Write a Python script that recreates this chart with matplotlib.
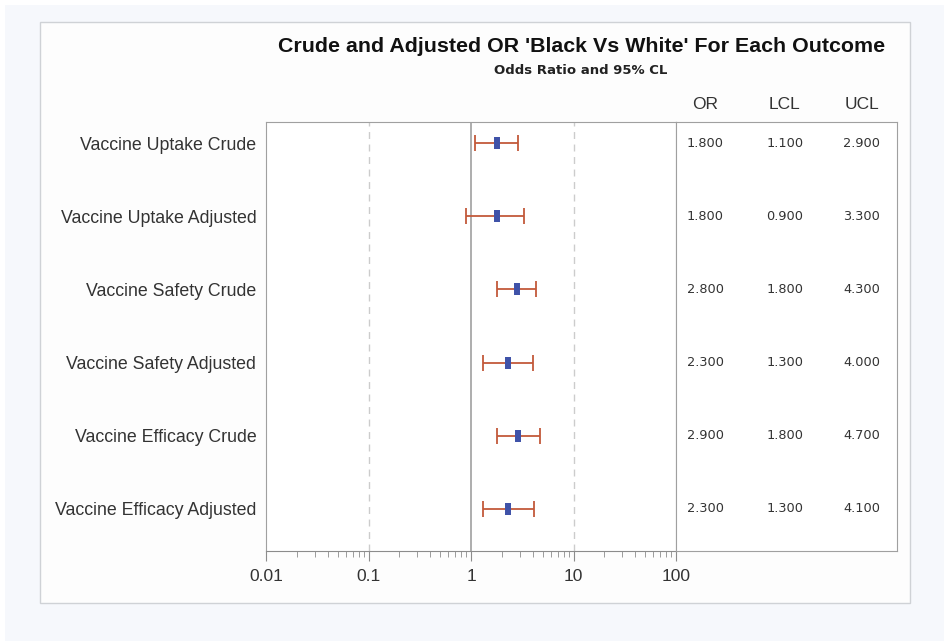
import matplotlib.pyplot as plt
from matplotlib.patches import Rectangle
import matplotlib.ticker as mticker

outcomes = ["Vaccine Uptake Crude", "Vaccine Uptake Adjusted", "Vaccine Safety Crude",
            "Vaccine Safety Adjusted", "Vaccine Efficacy Crude", "Vaccine Efficacy Adjusted"]
odds = [1.8, 1.8, 2.8, 2.3, 2.9, 2.3]
lcl = [1.1, 0.9, 1.8, 1.3, 1.8, 1.3]
ucl = [2.9, 3.3, 4.3, 4.0, 4.7, 4.1]

plt.rcParams['font.family'] = ['Liberation Sans', 'DejaVu Sans']

W, H = 945, 641
fig = plt.figure(figsize=(W / 100, H / 100), dpi=100)
fig.patch.set_facecolor("white")

# backgrounds
fig.add_artist(Rectangle((5 / W, 0), 940 / W, 1 - 5 / H, transform=fig.transFigure,
                         facecolor="#f6f8fc", edgecolor="none", zorder=-3))
fig.add_artist(Rectangle((40 / W, 1 - 603 / H), 870 / W, 581 / H, transform=fig.transFigure,
                         facecolor="#fdfdfd", edgecolor="#cfd2d6", lw=1, zorder=-2))

ax = fig.add_axes([266 / W, 1 - 551 / H, 410 / W, 429 / H])
tab = fig.add_axes([676 / W, 1 - 551 / H, 221 / W, 429 / H])

rows = list(range(len(outcomes)))
err_lo = [o - l for o, l in zip(odds, lcl)]
err_hi = [u - o for o, u in zip(odds, ucl)]

ax.set_xscale("log")
ax.set_xlim(0.01, 100)
ax.set_ylim(5.574, -0.287)
ax.axvline(1, color="#a0a0a0", lw=1.2, zorder=1)
for v in [0.1, 10]:
    ax.axvline(v, color="#cccccc", lw=1, ls=(0, (5, 4)), zorder=1)
ax.errorbar(odds, rows, xerr=[err_lo, err_hi], fmt="none", ecolor="#c3593a",
            elinewidth=1.3, capsize=5.8, capthick=1.3, zorder=2)
ax.scatter(odds, rows, marker="|", s=64, linewidths=4.3, color="#3f52a8", zorder=3)

ax.set_yticks(rows)
ax.set_yticklabels(outcomes, fontsize=12.8, color="#333333")
ax.tick_params(axis="y", length=0, pad=7)
ax.xaxis.set_major_locator(mticker.LogLocator(base=10))
ax.xaxis.set_major_formatter(mticker.FuncFormatter(lambda v, p: f"{v:g}"))
ax.xaxis.set_minor_locator(mticker.LogLocator(base=10, subs=range(2, 10)))
ax.xaxis.set_minor_formatter(mticker.NullFormatter())
ax.tick_params(axis="x", which="major", length=7, color="#8c8c8c", labelsize=12.5,
               labelcolor="#333333", pad=6)
ax.tick_params(axis="x", which="minor", length=4, color="#8c8c8c")
for s in ["top", "right", "left"]:
    ax.spines[s].set_color("#a0a0a0")
ax.spines["bottom"].set_color("#8c8c8c")
ax.set_facecolor("white")

# table panel
tab.set_xlim(0, 221)
tab.set_ylim(5.574, -0.287)
tab.set_xticks([])
tab.set_yticks([])
for s in tab.spines.values():
    s.set_color("#a0a0a0")
tab.set_facecolor("white")
cols = [29, 109, 186]
for r, o, l, u in zip(rows, odds, lcl, ucl):
    for cx, v in zip(cols, [o, l, u]):
        tab.text(cx, r, f"{v:.3f}", ha="center", va="center", fontsize=9.3,
                 family="DejaVu Sans", color="#333333")
for cx, h in zip(cols, ["OR", "LCL", "UCL"]):
    tab.text(cx, -0.42, h, ha="center", va="bottom", fontsize=12.5, color="#333333")

fig.text(582 / W, 1 - 47 / H, "Crude and Adjusted OR 'Black Vs White' For Each Outcome",
         ha="center", va="center", fontsize=15.4, fontweight="bold", color="#111111")
fig.text(581 / W, 1 - 71 / H, "Odds Ratio and 95% CL", ha="center", va="center",
         fontsize=9.5, fontweight="bold", family="DejaVu Sans", color="#222222")

fig.savefig("out.png", dpi=100)
